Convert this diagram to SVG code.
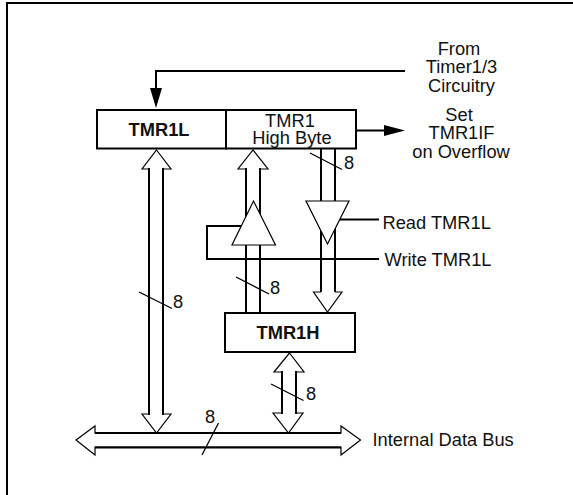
<svg xmlns="http://www.w3.org/2000/svg" width="573" height="495" viewBox="0 0 573 495">
<style>
text{font-family:"Liberation Sans",Arial,sans-serif;font-size:18.3px;fill:#111;text-anchor:middle}
.b{font-weight:bold}
.s{text-anchor:start}
.box{fill:#fff;stroke:#000;stroke-width:2}
.w{fill:none;stroke:#000;stroke-width:2}
.t{fill:none;stroke:#000;stroke-width:1.3}
.a{fill:#fff;stroke:#000;stroke-width:1.2}
</style>
<rect x="0" y="0" width="573" height="495" fill="#fff"/>
<path class="w" d="M7 495V3H573"/>
<g id="connectors">
<path class="w" d="M405 71H156V90"/>
<path d="M150 88H162L156 108Z" fill="#000"/>
<path class="w" d="M357 130.500H386"/>
<path d="M384 125L405 130.500L384 136Z" fill="#000"/>
<g id="bus-l">
<path class="a" d="M156.500 150L171 169H163V414H171L156.500 433L142 414H149V169H142Z"/>
<path class="w" d="M149 168V415M163 168V415"/>
</g>
<g id="bus-w">
<path class="a" d="M246 169H238L253 150L268 169H260"/>
<path class="w" d="M246 168V225M260 168V225M246 240V313M260 240V313"/>
</g>
<g id="bus-r">
<path class="w" d="M321 149V205M335 149V205M321 225V292M335 225V292"/>
<path class="a" d="M321 292H313.500L327.500 312L342 292H335"/>
</g>
<path class="w" d="M379 219.500H340"/>
<path class="w" d="M241 226H207V259H379"/>
<g id="bus-h">
<path class="a" d="M289.500 353L304 372H296V413H303L288.500 433L273 413H282V372H274Z"/>
<path class="w" d="M282 371V414M296 371V414"/>
</g>
<g id="bus-d">
<path class="a" d="M76 440L95 426V433H341V426L360.500 440L341 455V447H95V455Z"/>
<path class="w" d="M95 433H341M95 447.500H341"/>
</g>
</g>
<g id="tmr1l"><rect class="box" x="97" y="110" width="129" height="38.500"/><text class="b" x="159" y="136">TMR1L</text></g>
<g id="tmr1-high"><rect class="box" x="226" y="110" width="130" height="38.500"/><text><tspan x="290" y="127">TMR1</tspan><tspan x="292" y="144">High Byte</tspan></text></g>
<g id="buffer-write"><path class="a" d="M253.500 201L275.500 245H232Z"/></g>
<g id="buffer-read"><path class="a" d="M306 201H349L327.500 244Z"/></g>
<g id="tmr1h"><rect class="box" x="225" y="313" width="130" height="39"/><text class="b" x="288" y="339">TMR1H</text></g>
<g id="slashes">
<path class="t" d="M310 153L342 169.500M236 277L269 294M139 292L172 308.500M271 384L303.500 400.500M218.500 423L202 455"/>
</g>
<text><tspan x="459" y="55">From</tspan><tspan x="461.500" y="73">Timer1/3</tspan><tspan x="461.500" y="92">Circuitry</tspan></text>
<text><tspan x="459" y="121">Set</tspan><tspan x="461.500" y="139">TMR1IF</tspan><tspan x="461" y="158">on Overflow</tspan></text>
<text class="s" x="382.500" y="229">Read TMR1L</text>
<text class="s" x="384.500" y="266">Write TMR1L</text>
<text class="s" x="372.500" y="446">Internal Data Bus</text>
<text x="349" y="169">8</text><text x="275" y="293.500">8</text><text x="178" y="308">8</text><text x="311" y="400">8</text><text x="210" y="423">8</text>
</svg>
